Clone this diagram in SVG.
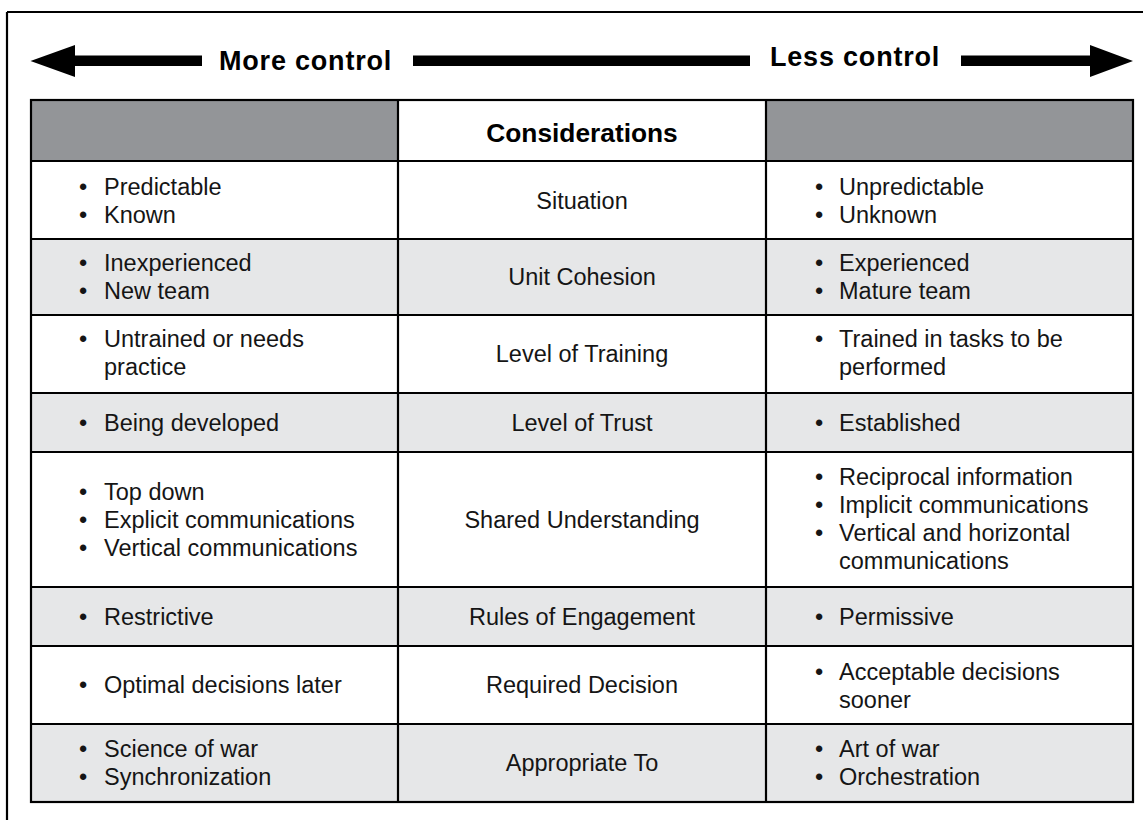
<svg xmlns="http://www.w3.org/2000/svg" width="1143" height="820" viewBox="0 0 1143 820">
<style>
.t{font-family:"Liberation Sans",Arial,sans-serif;font-size:23.5px;fill:#151515}
.c{text-anchor:middle}
.b{font-family:"Liberation Sans",Arial,sans-serif;font-weight:bold;fill:#000}
.ln{stroke:#000;stroke-width:2.2;fill:none}
.g{fill:#e6e7e8}
.w{fill:#fff}
.h{fill:#939598}
</style>
<rect width="1143" height="820" fill="#fff"/>
<g id="frame">
<path class="ln" d="M7,12 H1143 M7,12 V820"/>
</g>
<g id="connectors">
<polygon points="30.5,61 75,45 75,55.5 202,55.5 202,66 75,66 75,77" fill="#000"/>
<rect x="413" y="55.5" width="337" height="10.5" fill="#000"/>
<polygon points="961,55.5 1090,55.5 1090,45 1133,61 1090,77 1090,66 961,66" fill="#000"/>
</g>
<g id="labels">
<text class="b" x="219" y="70" font-size="27" letter-spacing="0.8">More control</text>
<text class="b" x="770" y="66" font-size="27" letter-spacing="0.8">Less control</text>
</g>
<g id="header">
<rect class="h" x="31" y="100" width="367" height="61"/>
<rect class="w" x="398" y="100" width="368" height="61"/>
<rect class="h" x="766" y="100" width="367" height="61"/>
<text class="b c" x="582" y="141.5" font-size="26.3">Considerations</text>
</g>
<g id="row-situation">
<rect class="w" x="31" y="161" width="1102" height="78"/>
<text class="t c" x="83" y="195">•</text><text class="t" x="104" y="195">Predictable</text>
<text class="t c" x="83" y="223">•</text><text class="t" x="104" y="223">Known</text>
<text class="t c" x="582" y="209">Situation</text>
<text class="t c" x="819" y="195">•</text><text class="t" x="839" y="195">Unpredictable</text>
<text class="t c" x="819" y="223">•</text><text class="t" x="839" y="223">Unknown</text>
</g>
<g id="row-cohesion">
<rect class="g" x="31" y="239" width="1102" height="76"/>
<text class="t c" x="83" y="271">•</text><text class="t" x="104" y="271">Inexperienced</text>
<text class="t c" x="83" y="299">•</text><text class="t" x="104" y="299">New team</text>
<text class="t c" x="582" y="285">Unit Cohesion</text>
<text class="t c" x="819" y="271">•</text><text class="t" x="839" y="271">Experienced</text>
<text class="t c" x="819" y="299">•</text><text class="t" x="839" y="299">Mature team</text>
</g>
<g id="row-training">
<rect class="w" x="31" y="315" width="1102" height="78"/>
<text class="t c" x="83" y="347">•</text><text class="t" x="104" y="347">Untrained or needs</text>
<text class="t" x="104" y="375">practice</text>
<text class="t c" x="582" y="362">Level of Training</text>
<text class="t c" x="819" y="347">•</text><text class="t" x="839" y="347">Trained in tasks to be</text>
<text class="t" x="839" y="375">performed</text>
</g>
<g id="row-trust">
<rect class="g" x="31" y="393" width="1102" height="59"/>
<text class="t c" x="83" y="430.5">•</text><text class="t" x="104" y="430.5">Being developed</text>
<text class="t c" x="582" y="430.5">Level of Trust</text>
<text class="t c" x="819" y="430.5">•</text><text class="t" x="839" y="430.5">Established</text>
</g>
<g id="row-understanding">
<rect class="w" x="31" y="452" width="1102" height="135"/>
<text class="t c" x="83" y="500">•</text><text class="t" x="104" y="500">Top down</text>
<text class="t c" x="83" y="528">•</text><text class="t" x="104" y="528">Explicit communications</text>
<text class="t c" x="83" y="556">•</text><text class="t" x="104" y="556">Vertical communications</text>
<text class="t c" x="582" y="528">Shared Understanding</text>
<text class="t c" x="819" y="485">•</text><text class="t" x="839" y="485">Reciprocal information</text>
<text class="t c" x="819" y="513">•</text><text class="t" x="839" y="513">Implicit communications</text>
<text class="t c" x="819" y="541">•</text><text class="t" x="839" y="541">Vertical and horizontal</text>
<text class="t" x="839" y="569">communications</text>
</g>
<g id="row-engagement">
<rect class="g" x="31" y="587" width="1102" height="59"/>
<text class="t c" x="83" y="624.5">•</text><text class="t" x="104" y="624.5">Restrictive</text>
<text class="t c" x="582" y="624.5">Rules of Engagement</text>
<text class="t c" x="819" y="624.5">•</text><text class="t" x="839" y="624.5">Permissive</text>
</g>
<g id="row-decision">
<rect class="w" x="31" y="646" width="1102" height="78"/>
<text class="t c" x="83" y="693">•</text><text class="t" x="104" y="693">Optimal decisions later</text>
<text class="t c" x="582" y="693">Required Decision</text>
<text class="t c" x="819" y="680">•</text><text class="t" x="839" y="680">Acceptable decisions</text>
<text class="t" x="839" y="708">sooner</text>
</g>
<g id="row-appropriate">
<rect class="g" x="31" y="724" width="1102" height="78"/>
<text class="t c" x="83" y="757">•</text><text class="t" x="104" y="757">Science of war</text>
<text class="t c" x="83" y="785">•</text><text class="t" x="104" y="785">Synchronization</text>
<text class="t c" x="582" y="771">Appropriate To</text>
<text class="t c" x="819" y="757">•</text><text class="t" x="839" y="757">Art of war</text>
<text class="t c" x="819" y="785">•</text><text class="t" x="839" y="785">Orchestration</text>
</g>
<g id="grid">
<rect class="ln" x="31" y="100" width="1102" height="702" stroke-width="2.5"/>
<path class="ln" d="M398,100 V802 M766,100 V802 M31,161 H1133 M31,239 H1133 M31,315 H1133 M31,393 H1133 M31,452 H1133 M31,587 H1133 M31,646 H1133 M31,724 H1133"/>
</g>
</svg>
